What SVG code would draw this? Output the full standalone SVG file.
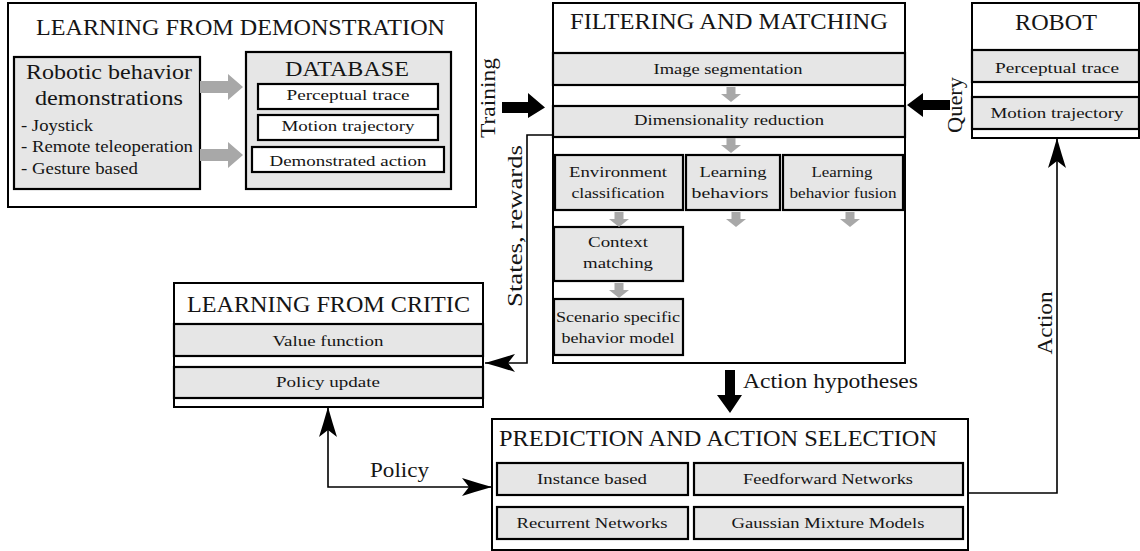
<svg xmlns="http://www.w3.org/2000/svg" width="1140" height="551" viewBox="0 0 1140 551">
  <style>
    .box { fill: #ffffff; stroke: #000; stroke-width: 2; }
    .gbox { fill: #e6e6e6; stroke: #000; stroke-width: 2.2; }
    .wbox { fill: #ffffff; stroke: #000; stroke-width: 2.2; }
    .t { font-family: "Liberation Serif", "DejaVu Serif", "Noto Serif", serif; fill: #151515; text-anchor: middle; }
    .title { font-size: 22.5px; }
    .big { font-size: 21px; }
    .mid { font-size: 17px; }
    .sm { font-size: 15.5px; }
    .lbl { font-size: 20px; }
    .left { text-anchor: start; }
    .line { fill: none; stroke: #000; stroke-width: 1.6; }
    .garrow { fill: #a8a8a8; }
    .barrow { fill: #000; }
  </style>
  <defs>
    <marker id="head" viewBox="0 0 30 20" refX="30" refY="10" markerWidth="30" markerHeight="20" markerUnits="userSpaceOnUse" orient="auto-start-reverse">
      <path d="M30,10 Q14,5.5 0,1 L7,10 L0,19 Q14,14.5 30,10 Z" fill="#000"/>
    </marker>
    <path id="down" d="M-4.5,0 L4.5,0 L4.5,7 L10,7 L0,15 L-10,7 L-4.5,7 Z"/>
  </defs>

  <rect width="1140" height="551" fill="#ffffff"/>

  <!-- Learning from demonstration -->
  <g id="lfd" font-family="Liberation Serif, DejaVu Serif, serif">
    <rect class="box" x="8" y="3" width="468" height="204"/>
    <text class="t title" x="240.5" y="35" textLength="409" lengthAdjust="spacingAndGlyphs">LEARNING FROM DEMONSTRATION</text>
    <g id="demos">
      <rect class="gbox" x="14" y="57" width="186" height="132"/>
      <text class="t big" x="109" y="79" textLength="166" lengthAdjust="spacingAndGlyphs">Robotic behavior</text>
      <text class="t big" x="109" y="105" textLength="148" lengthAdjust="spacingAndGlyphs">demonstrations</text>
      <text class="t mid left" x="21" y="131" textLength="72" lengthAdjust="spacingAndGlyphs">- Joystick</text>
      <text class="t mid left" x="21" y="152" textLength="172" lengthAdjust="spacingAndGlyphs">- Remote teleoperation</text>
      <text class="t mid left" x="21" y="174" textLength="117" lengthAdjust="spacingAndGlyphs">- Gesture based</text>
    </g>
    <polygon class="garrow" points="200,81 228,81 228,74 243,87 228,100 228,93 200,93"/>
    <polygon class="garrow" points="200,149 228,149 228,142 243,155 228,168 228,161 200,161"/>
    <g id="database">
      <rect class="gbox" x="246" y="52" width="205" height="137"/>
      <text class="t big" x="347" y="76" textLength="124" lengthAdjust="spacingAndGlyphs">DATABASE</text>
      <rect class="wbox" x="258" y="84" width="180" height="25"/>
      <text class="t sm" x="348" y="100" textLength="123" lengthAdjust="spacingAndGlyphs">Perceptual trace</text>
      <rect class="wbox" x="258" y="115" width="180" height="25"/>
      <text class="t sm" x="348" y="131" textLength="133" lengthAdjust="spacingAndGlyphs">Motion trajectory</text>
      <rect class="wbox" x="252" y="147" width="192" height="25"/>
      <text class="t sm" x="348" y="166" textLength="157" lengthAdjust="spacingAndGlyphs">Demonstrated action</text>
    </g>
  </g>

  <!-- Filtering and matching -->
  <g id="fm">
    <rect class="box" x="553" y="3" width="352" height="360"/>
    <text class="t title" x="729" y="29" textLength="318" lengthAdjust="spacingAndGlyphs">FILTERING AND MATCHING</text>
    <rect class="gbox" x="553" y="53" width="352" height="32"/>
    <text class="t sm" x="728" y="74" textLength="149" lengthAdjust="spacingAndGlyphs">Image segmentation</text>
    <rect class="gbox" x="553" y="106" width="352" height="31"/>
    <text class="t sm" x="729" y="125" textLength="190" lengthAdjust="spacingAndGlyphs">Dimensionality reduction</text>
    <g id="env">
      <rect class="gbox" x="555" y="155" width="128" height="55"/>
      <text class="t sm" x="618" y="177" textLength="98" lengthAdjust="spacingAndGlyphs">Environment</text>
      <text class="t sm" x="618" y="198" textLength="93" lengthAdjust="spacingAndGlyphs">classification</text>
    </g>
    <g id="lb">
      <rect class="gbox" x="686" y="155" width="94" height="55"/>
      <text class="t sm" x="733" y="177" textLength="67" lengthAdjust="spacingAndGlyphs">Learning</text>
      <text class="t sm" x="730" y="198" textLength="77" lengthAdjust="spacingAndGlyphs">behaviors</text>
    </g>
    <g id="lbf">
      <rect class="gbox" x="783" y="155" width="120" height="55"/>
      <text class="t sm" x="842" y="177" textLength="61" lengthAdjust="spacingAndGlyphs">Learning</text>
      <text class="t sm" x="843" y="198" textLength="107" lengthAdjust="spacingAndGlyphs">behavior fusion</text>
    </g>
    <g id="ctx">
      <rect class="gbox" x="554" y="227" width="129" height="54"/>
      <text class="t sm" x="618" y="247" textLength="60" lengthAdjust="spacingAndGlyphs">Context</text>
      <text class="t sm" x="618" y="268" textLength="70" lengthAdjust="spacingAndGlyphs">matching</text>
    </g>
    <g id="ssb">
      <rect class="gbox" x="554" y="299" width="129" height="56"/>
      <text class="t sm" x="618" y="322" textLength="124" lengthAdjust="spacingAndGlyphs">Scenario specific</text>
      <text class="t sm" x="618" y="343" textLength="113" lengthAdjust="spacingAndGlyphs">behavior model</text>
    </g>
    <g class="garrow">
      <use href="#down" x="731" y="87"/>
      <use href="#down" x="731" y="138"/>
      <use href="#down" x="619" y="212"/>
      <use href="#down" x="736" y="212"/>
      <use href="#down" x="850" y="212"/>
      <use href="#down" x="619" y="283"/>
    </g>
  </g>

  <!-- Robot -->
  <g id="robot">
    <rect class="box" x="972" y="3" width="167" height="135"/>
    <text class="t title" x="1056" y="30" textLength="82" lengthAdjust="spacingAndGlyphs">ROBOT</text>
    <rect class="gbox" x="972" y="50" width="167" height="32"/>
    <text class="t sm" x="1057" y="73" textLength="124" lengthAdjust="spacingAndGlyphs">Perceptual trace</text>
    <rect class="gbox" x="972" y="97" width="167" height="32"/>
    <text class="t sm" x="1057" y="118" textLength="133" lengthAdjust="spacingAndGlyphs">Motion trajectory</text>
  </g>

  <!-- Learning from critic -->
  <g id="lfc">
    <rect class="box" x="174" y="283" width="309" height="124"/>
    <text class="t title" x="328.5" y="312" textLength="283" lengthAdjust="spacingAndGlyphs">LEARNING FROM CRITIC</text>
    <rect class="gbox" x="174" y="324" width="309" height="32"/>
    <text class="t sm" x="328" y="346" textLength="111" lengthAdjust="spacingAndGlyphs">Value function</text>
    <rect class="gbox" x="174" y="367" width="309" height="31"/>
    <text class="t sm" x="328" y="387" textLength="104" lengthAdjust="spacingAndGlyphs">Policy update</text>
  </g>

  <!-- Prediction and action selection -->
  <g id="pas">
    <rect class="box" x="492" y="419" width="476" height="131"/>
    <text class="t title" x="718" y="446" textLength="438" lengthAdjust="spacingAndGlyphs">PREDICTION AND ACTION SELECTION</text>
    <rect class="gbox" x="497" y="463" width="191" height="32"/>
    <text class="t sm" x="592" y="484" textLength="110" lengthAdjust="spacingAndGlyphs">Instance based</text>
    <rect class="gbox" x="694" y="463" width="269" height="32"/>
    <text class="t sm" x="828" y="484" textLength="170" lengthAdjust="spacingAndGlyphs">Feedforward Networks</text>
    <rect class="gbox" x="497" y="507" width="191" height="32"/>
    <text class="t sm" x="592" y="528" textLength="151" lengthAdjust="spacingAndGlyphs">Recurrent Networks</text>
    <rect class="gbox" x="694" y="507" width="269" height="32"/>
    <text class="t sm" x="828" y="528" textLength="193" lengthAdjust="spacingAndGlyphs">Gaussian Mixture Models</text>
  </g>

  <!-- Connectors -->
  <g id="connectors">
    <polygon class="barrow" points="502,102 528,102 528,93 545,107.5 528,118 528,113 502,113"/>
    <text class="t lbl" transform="translate(495,98) rotate(-90)" textLength="80" lengthAdjust="spacingAndGlyphs">Training</text>

    <polygon class="barrow" points="950,100 923,100 923,93 907,105 923,117 923,110 950,110"/>
    <text class="t lbl" transform="translate(962,105) rotate(-90)" textLength="56" lengthAdjust="spacingAndGlyphs">Query</text>

    <polyline class="line" points="553,135 527,135 527,363 485,363" marker-end="url(#head)"/>
    <text class="t lbl" transform="translate(522,226) rotate(-90)" textLength="162" lengthAdjust="spacingAndGlyphs">States, rewards</text>

    <polygon class="barrow" points="725,370 735,370 735,395 742,395 730,413 717,395 725,395"/>
    <text class="t lbl left" x="743" y="388" textLength="175" lengthAdjust="spacingAndGlyphs">Action hypotheses</text>

    <polyline class="line" points="328,407 328,487 492,487" marker-start="url(#head)" marker-end="url(#head)"/>
    <text class="t lbl" x="399.5" y="477" textLength="59" lengthAdjust="spacingAndGlyphs">Policy</text>

    <polyline class="line" points="968,493 1057,493 1057,138" marker-end="url(#head)"/>
    <text class="t lbl" transform="translate(1052,323) rotate(-90)" textLength="63" lengthAdjust="spacingAndGlyphs">Action</text>
  </g>
</svg>
